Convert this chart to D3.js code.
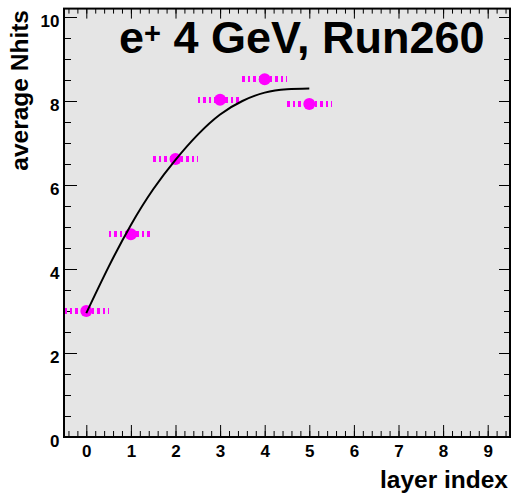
<!DOCTYPE html>
<html>
<head>
<meta charset="utf-8">
<script src="https://cdn.jsdelivr.net/npm/d3@7"></script>
<style>
    body { margin: 0; background: #ffffff; }
    text { font-family: "Liberation Sans", Arial, sans-serif; font-weight: bold; }
</style>
</head>
<body>
<div id="chart"></div>
<script>
// measured points
const layers = [0, 1, 2, 3, 4, 5];
const nhits = [3.0, 4.83, 6.62, 8.03, 8.52, 7.93];
const xErrors = [0.5, 0.5, 0.5, 0.5, 0.5, 0.5];

// fit curve
const fitX = [0, 0.5, 1, 1.5, 2, 2.5, 3, 3.5, 4, 4.5, 5];
const fitY = [2.95, 4.05, 5.05, 5.9, 6.6, 7.2, 7.68, 8.0, 8.2, 8.28, 8.3];

const xTicks = [0, 1, 2, 3, 4, 5, 6, 7, 8, 9];
const yTicks = [0, 2, 4, 6, 8, 10];
const xDomain = [-0.5, 9.5];
const yDomain = [0, 10.2];

const titleText = "4 GeV, Run260";
const xTitle = "layer index";
const yTitle = "average Nhits";

let margin = { top: 8.6, right: 2, bottom: 59, left: 64 };
let width = 512 - margin.left - margin.right,
    height = 496 - margin.top - margin.bottom;

let svg = d3.select("#chart").append("svg")
    .attr("width", 512)
    .attr("height", 496);

let g = svg.append("g")
    .attr("transform", "translate(" + margin.left + "," + margin.top + ")");

let x = d3.scaleLinear().domain(xDomain).range([0, width]);
let y = d3.scaleLinear().domain(yDomain).range([height, 0]);

// frame background
g.append("rect")
    .attr("width", width)
    .attr("height", height)
    .attr("fill", "#e5e5e5");

// minor tick values
let xMinor = d3.range(-0.4, 9.5, 0.2).map(function(d) { return +d.toFixed(1) });
let yMinor = d3.range(0, 10.21, 0.5);

// bottom axis
g.append("g")
    .attr("transform", "translate(0," + height + ")")
    .call(d3.axisBottom(x).tickValues(xMinor).tickSize(-6).tickFormat(""))
    .call(function(a) { a.select(".domain").remove() });

let xAx = g.append("g")
    .attr("transform", "translate(0," + height + ")")
    .call(d3.axisBottom(x).tickValues(xTicks).tickSize(-12).tickPadding(8).tickFormat(d3.format("d")));
xAx.select(".domain").remove();
xAx.selectAll("text").style("font-size", "17px").attr("fill", "#000");

// top axis
g.append("g")
    .call(d3.axisTop(x).tickValues(xMinor).tickSize(-5).tickFormat(""))
    .call(function(a) { a.select(".domain").remove() });
g.append("g")
    .call(d3.axisTop(x).tickValues(xTicks).tickSize(-10).tickFormat(""))
    .call(function(a) { a.select(".domain").remove() });

// left axis
g.append("g")
    .call(d3.axisLeft(y).tickValues(yMinor).tickSize(-7).tickFormat(""))
    .call(function(a) { a.select(".domain").remove() });

let yAx = g.append("g")
    .call(d3.axisLeft(y).tickValues(yTicks).tickSize(-13).tickPadding(4.5).tickFormat(d3.format("d")));
yAx.select(".domain").remove();
yAx.selectAll("text").style("font-size", "17px").attr("dy", "0.56em").attr("fill", "#000");

// right axis
g.append("g")
    .attr("transform", "translate(" + width + ",0)")
    .call(d3.axisRight(y).tickValues(yMinor).tickSize(-6).tickFormat(""))
    .call(function(a) { a.select(".domain").remove() });
g.append("g")
    .attr("transform", "translate(" + width + ",0)")
    .call(d3.axisRight(y).tickValues(yTicks).tickSize(-11).tickFormat(""))
    .call(function(a) { a.select(".domain").remove() });

g.selectAll(".tick line").attr("stroke", "#000").attr("stroke-width", 1);

// x errors
g.selectAll(".xerr")
    .data(layers)
    .enter()
    .append("line")
    .attr("class", "xerr")
    .attr("x1", function(d, i) { return x(d - xErrors[i]) })
    .attr("x2", function(d, i) { return x(d + xErrors[i]) })
    .attr("y1", function(d, i) { return y(nhits[i]) })
    .attr("y2", function(d, i) { return y(nhits[i]) })
    .attr("stroke", "#ff00ff")
    .attr("stroke-width", 6)
    .attr("stroke-dasharray", "2.5,3")
    .attr("shape-rendering", "crispEdges");

// markers
g.selectAll(".pt")
    .data(layers)
    .enter()
    .append("circle")
    .attr("class", "pt")
    .attr("cx", function(d) { return x(d) })
    .attr("cy", function(d, i) { return y(nhits[i]) })
    .attr("r", 6)
    .attr("fill", "#ff00ff");

// fit line
let line = d3.line()
    .x(function(d) { return x(d) })
    .y(function(d, i) { return y(fitY[i]) })
    .curve(d3.curveNatural);

g.append("path")
    .attr("fill", "none")
    .attr("stroke", "#000")
    .attr("stroke-width", 2)
    .attr("d", line(fitX));

// frame
g.append("rect")
    .attr("width", width)
    .attr("height", height)
    .attr("fill", "none")
    .attr("stroke", "#000")
    .attr("stroke-width", 2);

// title
let title = g.append("text")
    .attr("x", 55)
    .attr("y", 44.5)
    .style("font-size", "45px")
    .attr("fill", "#000");
title.append("tspan").text("e");
title.append("tspan")
    .attr("dy", "-0.36em")
    .style("font-size", "29px")
    .text("+");
title.append("tspan")
    .attr("dy", "0.23em")
    .text(" " + titleText);

// axis titles
svg.append("text")
    .attr("x", 508)
    .attr("y", 487.5)
    .attr("text-anchor", "end")
    .style("font-size", "24.5px")
    .text(xTitle);

svg.append("text")
    .attr("transform", "translate(27.5,10)rotate(-90)")
    .attr("text-anchor", "end")
    .style("font-size", "24.5px")
    .text(yTitle);
</script>
</body>
</html>
